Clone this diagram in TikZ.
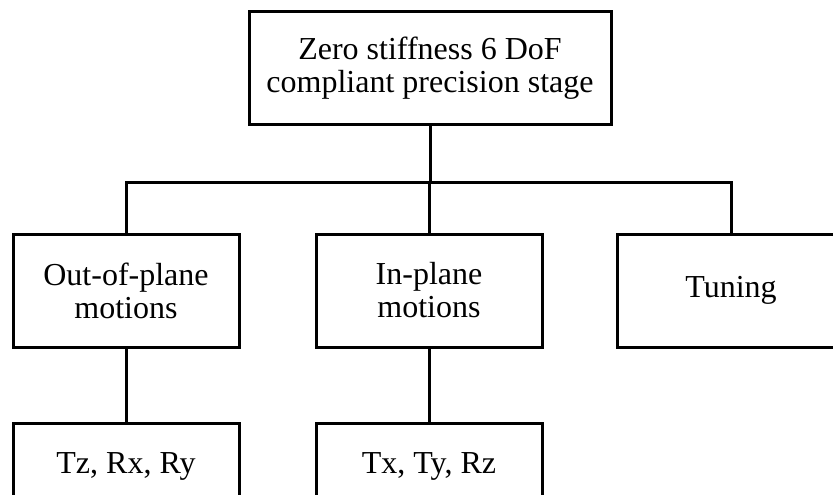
\documentclass[tikz,border=0pt]{standalone}
\usepackage{fontspec}
\setmainfont{Liberation Serif}
\begin{document}
\begin{tikzpicture}[x=1pt,y=1pt,
  box/.style={draw=black,line width=3pt,inner sep=0pt,align=center,
    font=\fontsize{32}{33}\selectfont,minimum height=113pt},
  link/.style={line width=3pt,line cap=butt}]
\useasboundingbox (0,0) rectangle (833,-495);
\clip (0,0) rectangle (833,-495);
\node[box,minimum width=362pt,minimum height=112pt] (top) at (430,-68) {Zero stiffness 6 DoF\\compliant precision stage};
\node[box,minimum width=226pt] (out) at (126,-290.5) {Out-of-plane\\motions};
\node[box,minimum width=226pt] (in) at (429,-290.5) {In-plane\\motions};
\node[box,minimum width=228pt] (tun) at (731,-290.5) {Tuning};
\node[box,minimum width=226pt,minimum height=80pt,text depth=0pt] (tz) at (126,-463) {Tz, Rx, Ry};
\node[box,minimum width=226pt,minimum height=80pt,text depth=0pt] (tx) at (429,-463) {Tx, Ty, Rz};
\coordinate (bar) at (430,-182);
\draw[link] (top.south) -- (top.south |- bar);
\draw[link] (out.north) |- (bar) -| (tun.north);
\draw[link] (in.north) -- (in.north |- bar);
\draw[link] (out.south) -- (tz.north);
\draw[link] (in.south) -- (tx.north);
\end{tikzpicture}
\end{document}
